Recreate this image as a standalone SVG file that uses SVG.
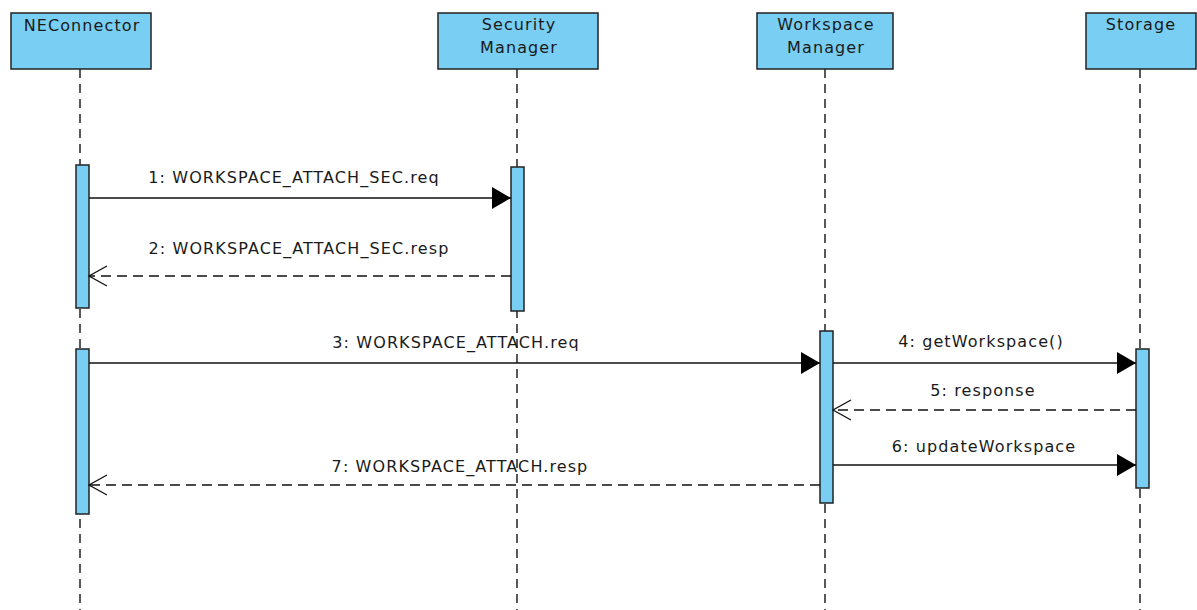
<svg xmlns="http://www.w3.org/2000/svg" width="1197" height="610" viewBox="0 0 1197 610">
<defs>
<style>
text{font-family:"DejaVu Sans",sans-serif;font-size:16px;letter-spacing:1.1px;fill:#1a1a1a;text-anchor:middle}
.box{fill:#79cef3;stroke:#222;stroke-width:1.5}
.life{stroke:#222;stroke-width:1.5;stroke-dasharray:9 6;fill:none}
.act{fill:#79cef3;stroke:#222;stroke-width:1.5}
.msg{stroke:#111;stroke-width:1.5;fill:none}
.ret{stroke:#111;stroke-width:1.3;fill:none;stroke-dasharray:10 6}
</style>
<marker id="fill" markerWidth="22" markerHeight="24" refX="19" refY="11" orient="auto" markerUnits="userSpaceOnUse">
<path d="M0,0 L19,11 L0,22 Z" fill="#000"/>
</marker>
<marker id="open" markerWidth="22" markerHeight="24" refX="19" refY="11" orient="auto" markerUnits="userSpaceOnUse">
<path d="M1,1 L19,11 L1,21" fill="none" stroke="#111" stroke-width="1.3"/>
</marker>
</defs>
<rect width="1197" height="610" fill="#fff"/>
<g id="lifelines">
<line class="life" x1="80" y1="69" x2="80" y2="610"/>
<line class="life" x1="517" y1="69" x2="517" y2="610"/>
<line class="life" x1="825" y1="69" x2="825" y2="610"/>
<line class="life" x1="1140" y1="69" x2="1140" y2="610"/>
</g>
<g id="NEConnector">
<rect class="box" x="11" y="13" width="140" height="56"/>
<text x="82" y="31">NEConnector</text>
<rect class="act" x="76" y="165" width="13" height="143"/>
<rect class="act" x="76" y="349" width="13" height="165"/>
</g>
<g id="SecurityManager">
<rect class="box" x="438" y="13" width="160" height="56"/>
<text x="519" y="30">Security</text>
<text x="519" y="53">Manager</text>
<rect class="act" x="511" y="167" width="13" height="144"/>
</g>
<g id="WorkspaceManager">
<rect class="box" x="757" y="13" width="136" height="56"/>
<text x="826" y="30">Workspace</text>
<text x="826" y="53">Manager</text>
<rect class="act" x="820" y="331" width="13" height="172"/>
</g>
<g id="Storage">
<rect class="box" x="1086" y="13" width="110" height="56"/>
<text x="1141" y="30">Storage</text>
<rect class="act" x="1136" y="349" width="13" height="139"/>
</g>
<g id="connectors">
<line class="msg" x1="89" y1="198" x2="511" y2="198" marker-end="url(#fill)"/>
<line class="ret" x1="511" y1="276" x2="89" y2="276" marker-end="url(#open)"/>
<line class="msg" x1="89" y1="363" x2="820" y2="363" marker-end="url(#fill)"/>
<line class="msg" x1="833" y1="363" x2="1136" y2="363" marker-end="url(#fill)"/>
<line class="ret" x1="1136" y1="410" x2="833" y2="410" marker-end="url(#open)"/>
<line class="msg" x1="833" y1="465" x2="1136" y2="465" marker-end="url(#fill)"/>
<line class="ret" x1="820" y1="485" x2="89" y2="485" marker-end="url(#open)"/>
</g>
<g id="labels">
<text x="294" y="183">1: WORKSPACE_ATTACH_SEC.req</text>
<text x="299" y="254">2: WORKSPACE_ATTACH_SEC.resp</text>
<text x="456" y="348">3: WORKSPACE_ATTACH.req</text>
<text x="981" y="347">4: getWorkspace()</text>
<text x="983" y="396">5: response</text>
<text x="984" y="452">6: updateWorkspace</text>
<text x="460" y="472">7: WORKSPACE_ATTACH.resp</text>
</g>
</svg>
